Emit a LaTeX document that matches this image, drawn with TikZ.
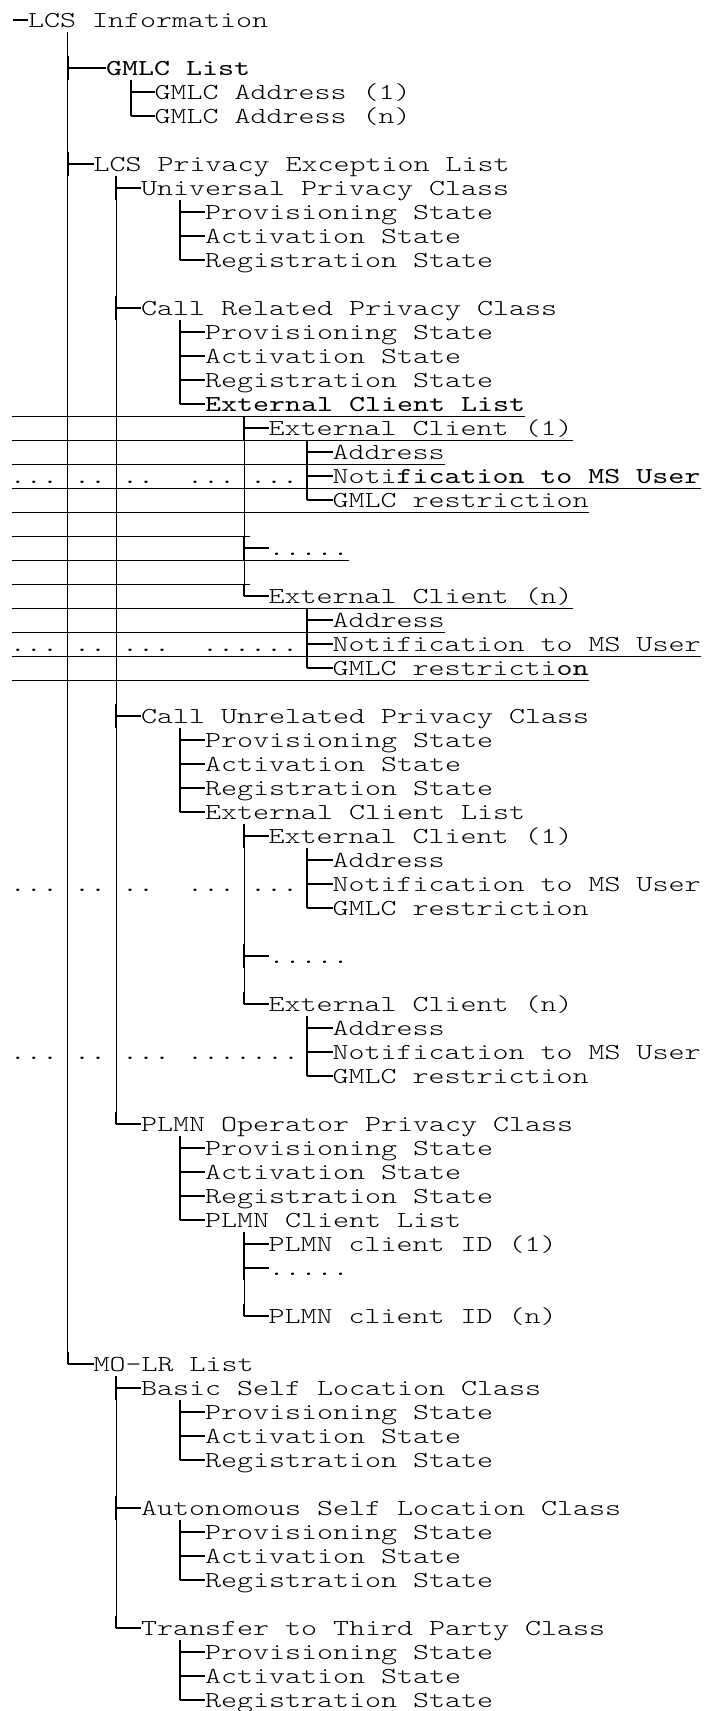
\documentclass[tikz,border=0pt]{standalone}
\usepackage{fontspec}
\usepackage{tikz}
\usetikzlibrary{calc}
\newfontfamily\treefont{lmmonolt10}[Extension=.otf, UprightFont=*-regular, BoldFont=lmmono10-regular, FakeStretch=1.3367]

% branch of the tree: thick bar on the stem and a spur to the entry
\newcommand\twig[2]{%
    \draw[bar] (#1 |- #2.north) -- (#1 |- #2.south);
    \draw[spur] (#1 |- #2.west) -- (#2.west);}
\newcommand\lasttwig[2]{%
    \draw[bar] (#1 |- #2.north) -- (#1 |- #2.west);
    \draw[spur] (#1 |- #2.west) -- (#2.west);}

\begin{document}
\begin{tikzpicture}[x=0.5pt, y=-12pt,
    stem/.style={line width=0.5pt},
    bar/.style={line width=1pt},
    spur/.style={line width=0.9pt},
    rule/.style={line width=0.5pt}]

    \useasboundingbox (0,0) rectangle (704,71.2917);

    \begin{scope}[yshift=-13.75pt]

    % columns of the stems
    \coordinate (root) at (13,0);
    \coordinate (v0) at (67.5,0);
    \coordinate (v1) at (116,0);
    \coordinate (vg) at (131,0);
    \coordinate (v2) at (179.5,0);
    \coordinate (v3) at (244,0);
    \coordinate (v4) at (307,0);
    \coordinate (tabl) at (12,0);
    \coordinate (tabr) at (250,0);

    % entries (x in px, y in rows)
    \begin{scope}[every node/.style={anchor=base west, inner sep=0pt, outer sep=0pt,
                  text height=9.9pt, text depth=2.4pt,
                  font={\treefont\fontsize{11.4pt}{12pt}\selectfont}}]
        \node (lcs) at (28,0) {LCS Information};

        \node (gmlc) at (106,2) {\textbf{GMLC List}};
        \node (gaddr1) at (154.5,3) {GMLC Address (1)};
        \node (gaddrn) at (154.5,4) {GMLC Address (n)};

        \node (lpel) at (93.5,6) {LCS Privacy Exception List};
        \node (upc) at (141,7) {Universal Privacy Class};
        \node (upcprov) at (205,8) {Provisioning State};
        \node (upcact) at (205,9) {Activation State};
        \node (upcreg) at (205,10) {Registration State};

        \node (crpc) at (141,12) {Call Related Privacy Class};
        \node (crpcprov) at (205,13) {Provisioning State};
        \node (crpcact) at (205,14) {Activation State};
        \node (crpcreg) at (205,15) {Registration State};
        \node (crecl) at (205,16) {\textbf{External Client List}};
        \node (crec1) at (268.5,17) {External Client (1)};
        \node (crec1addr) at (332.5,18) {Address};
        \node (crec1notif) at (332.5,19) {Noti\textbf{fication to MS User}};
        \node (crec1gmlc) at (332.5,20) {GMLC restriction};
        \node (crdots) at (268.5,22) {.....};
        \node (crecn) at (268.5,24) {External Client (n)};
        \node (crecnaddr) at (332.5,25) {Address};
        \node (crecnnotif) at (332.5,26) {Notification to MS User};
        \node (crecngmlc) at (332.5,27) {GMLC restricti\textbf{on}};

        \node (cupc) at (141,29) {Call Unrelated Privacy Class};
        \node (cupcprov) at (205,30) {Provisioning State};
        \node (cupcact) at (205,31) {Activation State};
        \node (cupcreg) at (205,32) {Registration State};
        \node (cuecl) at (205,33) {External Client List};
        \node (cuec1) at (268.5,34) {External Client (1)};
        \node (cuec1addr) at (332.5,35) {Address};
        \node (cuec1notif) at (332.5,36) {Notification to MS User};
        \node (cuec1gmlc) at (332.5,37) {GMLC restriction};
        \node (cudots) at (268.5,39) {.....};
        \node (cuecn) at (268.5,41) {External Client (n)};
        \node (cuecnaddr) at (332.5,42) {Address};
        \node (cuecnnotif) at (332.5,43) {Notification to MS User};
        \node (cuecngmlc) at (332.5,44) {GMLC restriction};

        \node (plmn) at (141,46) {PLMN Operator Privacy Class};
        \node (plmnprov) at (205,47) {Provisioning State};
        \node (plmnact) at (205,48) {Activation State};
        \node (plmnreg) at (205,49) {Registration State};
        \node (pcl) at (205,50) {PLMN Client List};
        \node (pid1) at (268.5,51) {PLMN client ID (1)};
        \node (pdots) at (268.5,52) {.....};
        \node (pidn) at (268.5,54) {PLMN client ID (n)};

        \node (molr) at (93.5,56) {MO-LR List};
        \node (bslc) at (141,57) {Basic Self Location Class};
        \node (bslcprov) at (205,58) {Provisioning State};
        \node (bslcact) at (205,59) {Activation State};
        \node (bslcreg) at (205,60) {Registration State};
        \node (aslc) at (141,62) {Autonomous Self Location Class};
        \node (aslcprov) at (205,63) {Provisioning State};
        \node (aslcact) at (205,64) {Activation State};
        \node (aslcreg) at (205,65) {Registration State};
        \node (ttpc) at (141,67) {Transfer to Third Party Class};
        \node (ttpcprov) at (205,68) {Provisioning State};
        \node (ttpcact) at (205,69) {Activation State};
        \node (ttpcreg) at (205,70) {Registration State};

        % leftover dots of the table
        \node (da1) at (10,19) {...};
        \node (da2) at (74,19) {..};
        \node (da3) at (122,19) {..};
        \node (da4) at (187,19) {...};
        \node (da5) at (250,19) {...};
        \node (db1) at (10,26) {...};
        \node (db2) at (74,26) {..};
        \node (db3) at (122,26) {...};
        \node (db4) at (202,26) {......};
        \node (dc1) at (10,36) {...};
        \node (dc2) at (74,36) {..};
        \node (dc3) at (122,36) {..};
        \node (dc4) at (187,36) {...};
        \node (dc5) at (250,36) {...};
        \node (dd1) at (10,43) {...};
        \node (dd2) at (74,43) {..};
        \node (dd3) at (122,43) {...};
        \node (dd4) at (187,43) {.......};
    \end{scope}

    % stems
    \draw[stem] (v0 |- lcs.south) -- (v0 |- molr.west);
    \draw[stem] (vg |- gmlc.south) -- (vg |- gaddrn.west);
    \draw[stem] (v1 |- lpel.south) -- (v1 |- plmn.west);
    \draw[stem] (v2 |- upc.south) -- (v2 |- upcreg.west);
    \draw[stem] (v2 |- crpc.south) -- (v2 |- crecl.west);
    \draw[stem] (v3 |- crecl.south) -- (v3 |- crecn.west);
    \draw[stem] (v4 |- crec1.south) -- (v4 |- crec1gmlc.west);
    \draw[stem] (v4 |- crecn.south) -- (v4 |- crecngmlc.west);
    \draw[stem] (v2 |- cupc.south) -- (v2 |- cuecl.west);
    \draw[stem] (v3 |- cuecl.south) -- (v3 |- cuecn.west);
    \draw[stem] (v4 |- cuec1.south) -- (v4 |- cuec1gmlc.west);
    \draw[stem] (v4 |- cuecn.south) -- (v4 |- cuecngmlc.west);
    \draw[stem] (v2 |- plmn.south) -- (v2 |- pcl.west);
    \draw[stem] (v3 |- pcl.south) -- (v3 |- pidn.west);
    \draw[stem] (v1 |- molr.south) -- (v1 |- ttpc.west);
    \draw[stem] (v2 |- bslc.south) -- (v2 |- bslcreg.west);
    \draw[stem] (v2 |- aslc.south) -- (v2 |- aslcreg.west);
    \draw[stem] (v2 |- ttpc.south) -- (v2 |- ttpcreg.west);

    % branches
    \draw[spur] (root |- lcs.west) -- (lcs.west);
    \twig{v0}{gmlc} \twig{v0}{lpel} \lasttwig{v0}{molr}
    \twig{vg}{gaddr1} \lasttwig{vg}{gaddrn}
    \twig{v1}{upc} \twig{v1}{crpc} \twig{v1}{cupc} \lasttwig{v1}{plmn}
    \twig{v2}{upcprov} \twig{v2}{upcact} \lasttwig{v2}{upcreg}

    \twig{v2}{crpcprov} \twig{v2}{crpcact} \twig{v2}{crpcreg} \lasttwig{v2}{crecl}
    \twig{v3}{crec1} \twig{v3}{crdots} \lasttwig{v3}{crecn}
    \twig{v4}{crec1addr} \twig{v4}{crec1notif} \lasttwig{v4}{crec1gmlc}
    \twig{v4}{crecnaddr} \twig{v4}{crecnnotif} \lasttwig{v4}{crecngmlc}

    \twig{v2}{cupcprov} \twig{v2}{cupcact} \twig{v2}{cupcreg} \lasttwig{v2}{cuecl}
    \twig{v3}{cuec1} \twig{v3}{cudots} \lasttwig{v3}{cuecn}
    \twig{v4}{cuec1addr} \twig{v4}{cuec1notif} \lasttwig{v4}{cuec1gmlc}
    \twig{v4}{cuecnaddr} \twig{v4}{cuecnnotif} \lasttwig{v4}{cuecngmlc}

    \twig{v2}{plmnprov} \twig{v2}{plmnact} \twig{v2}{plmnreg} \lasttwig{v2}{pcl}
    \twig{v3}{pid1} \twig{v3}{pdots} \lasttwig{v3}{pidn}

    \twig{v1}{bslc} \twig{v1}{aslc} \lasttwig{v1}{ttpc}
    \twig{v2}{bslcprov} \twig{v2}{bslcact} \lasttwig{v2}{bslcreg}
    \twig{v2}{aslcprov} \twig{v2}{aslcact} \lasttwig{v2}{aslcreg}
    \twig{v2}{ttpcprov} \twig{v2}{ttpcact} \lasttwig{v2}{ttpcreg}

    % table rules under the first external client list
    \draw[rule] (tabl |- crecl.south) -- (crecl.south east);
    \draw[rule] (tabl |- crec1.south) -- (crec1.south east);
    \draw[rule] (tabl |- crec1addr.south) -- (crec1addr.south east);
    \draw[rule] (tabl |- crec1notif.south) -- (crec1notif.south east);
    \draw[rule] (tabl |- crec1gmlc.south) -- (crec1gmlc.south east);
    \draw[rule] (tabl |- 0,21.2) -- (tabr |- 0,21.2);
    \draw[rule] (tabl |- crdots.south) -- (crdots.south east);
    \draw[rule] (tabl |- 0,23.2) -- (tabr |- 0,23.2);
    \draw[rule] (tabl |- crecn.south) -- (crecn.south east);
    \draw[rule] (tabl |- crecnaddr.south) -- (crecnaddr.south east);
    \draw[rule] (tabl |- crecnnotif.south) -- (crecnnotif.south east);
    \draw[rule] (tabl |- crecngmlc.south) -- (crecngmlc.south east);

    \end{scope}

\end{tikzpicture}
\end{document}
